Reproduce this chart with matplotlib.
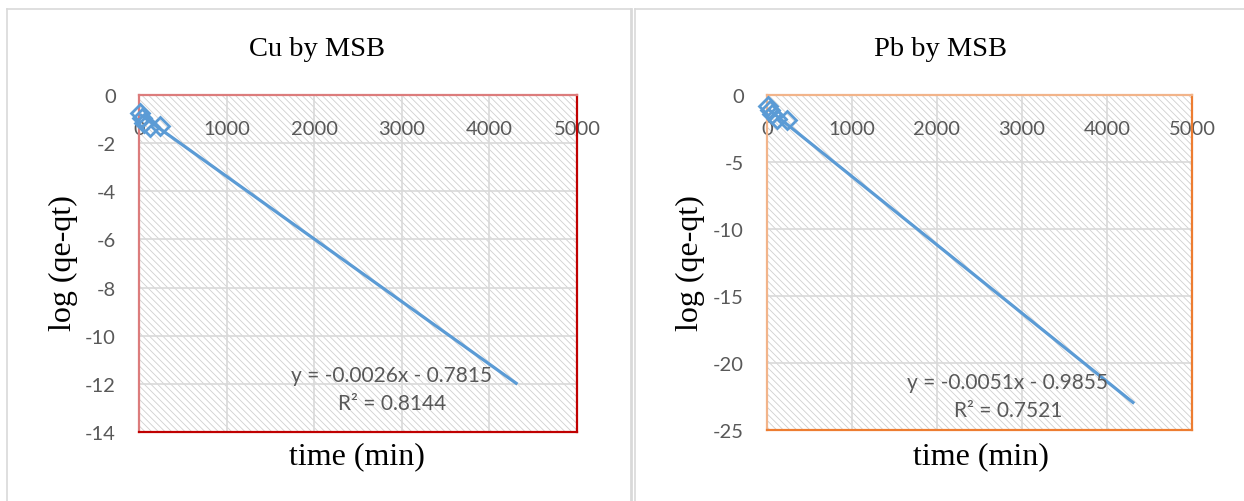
import matplotlib
matplotlib.use("Agg")
import matplotlib.pyplot as plt
import numpy as np
from matplotlib.patches import Rectangle
from matplotlib.lines import Line2D

# ---- data -------------------------------------------------------------
time_min = [10, 30, 60, 120, 240]
cu_log_q = [-0.75, -0.95, -1.15, -1.33, -1.27]
pb_log_q = [-0.80, -1.12, -1.45, -1.80, -1.85]

trend_x_end = 4320

cu_slope, cu_intercept, cu_r2 = -0.0026, -0.7815, 0.8144
pb_slope, pb_intercept, pb_r2 = -0.0051, -0.9855, 0.7521

x_ticks = [0, 1000, 2000, 3000, 4000, 5000]
cu_y_ticks = [0, -2, -4, -6, -8, -10, -12, -14]
pb_y_ticks = [0, -5, -10, -15, -20, -25]

# ---- style ------------------------------------------------------------
W, H = 1244, 502
DPI = 100
plt.rcParams["hatch.linewidth"] = 0.6

fig = plt.figure(figsize=(W / DPI, H / DPI), dpi=DPI)
fig.patch.set_facecolor("white")

BLUE = "#5b9bd5"
TICK = "#595959"
GRID = "#d9d9d9"
SERIF = "Liberation Serif"
SANS = "Lato"


def px(x, y):
    return x / W, 1 - y / H


def panel(rect, title, title_xy, xlabel_xy, ylabel_xy, y, yticks, slope,
          intercept, r2, eq_xy, spine_light, spine_dark, ypad):
    ax = fig.add_axes(rect)
    ax.set_xlim(0, 5000)
    ax.set_ylim(min(yticks), 0)
    ax.set_xticks(x_ticks)
    ax.set_yticks(yticks)
    ax.set_xticklabels([str(v) for v in x_ticks])
    ax.set_yticklabels([str(v) for v in yticks])

    # hatched plot area
    ax.add_patch(Rectangle((0, 0), 1, 1, transform=ax.transAxes,
                           facecolor="white", edgecolor="#cfcfcf",
                           hatch="\\" * 5, linewidth=0, zorder=0.1))
    ax.set_axisbelow(True)
    ax.grid(True, color=GRID, linewidth=1.2, zorder=0.5)

    ax.tick_params(axis="x", top=True, bottom=False, labeltop=True,
                   labelbottom=False, length=0, pad=-30,
                   labelsize=14.5, labelcolor=TICK)
    ax.tick_params(axis="y", length=0, pad=ypad, labelsize=14.5,
                   labelcolor=TICK)
    for lab in ax.get_xticklabels() + ax.get_yticklabels():
        lab.set_fontfamily(SANS)

    for side in ("top", "left"):
        ax.spines[side].set_color(spine_light)
        ax.spines[side].set_linewidth(1.6)
    for side in ("bottom", "right"):
        ax.spines[side].set_color(spine_dark)
        ax.spines[side].set_linewidth(1.6)

    # linear trendline from the fitted coefficients
    tx = np.array([time_min[0], trend_x_end])
    ax.plot(tx, slope * tx + intercept, color=BLUE, linewidth=2.3,
            solid_capstyle="butt", zorder=3, clip_on=False)
    ax.plot(time_min, y, linestyle="none", marker="D", markersize=9.5,
            markerfacecolor="none", markeredgecolor=BLUE,
            markeredgewidth=2.0, zorder=4, clip_on=False)

    ax.text(eq_xy[0], eq_xy[1],
            f"y = {slope}x - {abs(intercept)}\nR² = {r2}",
            ha="center", va="center", multialignment="center",
            fontsize=15, color=TICK, family=SANS, linespacing=1.5,
            zorder=5)

    fig.text(*px(*title_xy), title, ha="center", va="center",
             fontsize=20.5, family=SERIF, color="black")
    fig.text(*px(*xlabel_xy), "time (min)", ha="center", va="center",
             fontsize=23, family=SERIF, color="black")
    fig.text(*px(*ylabel_xy), "log (qe-qt)", ha="center", va="center",
             rotation=90, fontsize=23, family=SERIF, color="black")
    return ax


panel([139 / W, 1 - 433 / H, 438 / W, 337 / H], "Cu by MSB",
      (317, 50), (357, 457), (63, 263), cu_log_q, cu_y_ticks,
      cu_slope, cu_intercept, cu_r2, (2888, -12.2),
      "#dc7c7c", "#c00000", 16.5)

panel([767 / W, 1 - 431 / H, 425 / W, 335 / H], "Pb by MSB",
      (940, 50), (981, 457), (690, 263), pb_log_q, pb_y_ticks,
      pb_slope, pb_intercept, pb_r2, (2835, -22.5),
      "#f2b48a", "#ed7d31", 16.5)

# chart frames
frame = dict(color="#d9d9d9", transform=fig.transFigure)
fig.add_artist(Line2D([7 / W, 7 / W], [0, 1 - 9.5 / H], linewidth=1.2, **frame))
fig.add_artist(Line2D([7 / W, 631 / W], [1 - 9.5 / H, 1 - 9.5 / H], linewidth=1.2, **frame))
fig.add_artist(Line2D([631 / W, 631 / W], [0, 1 - 9.5 / H], linewidth=2.0, **frame))
fig.add_artist(Line2D([634.5 / W, 634.5 / W], [0, 1 - 9.5 / H], linewidth=1.2, **frame))
fig.add_artist(Line2D([634.5 / W, 1], [1 - 9.5 / H, 1 - 9.5 / H], linewidth=1.2, **frame))

fig.savefig("out.png", dpi=DPI, facecolor="white")
